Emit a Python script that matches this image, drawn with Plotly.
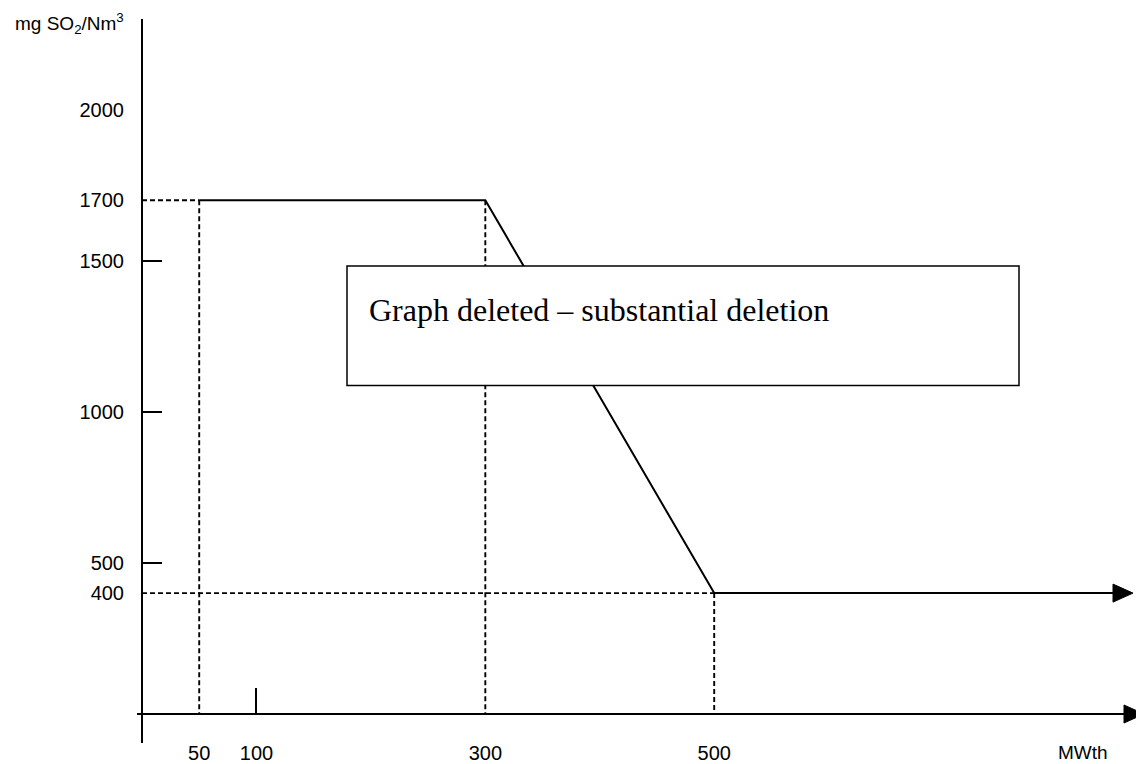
import plotly.graph_objects as go

# ---- data ----
MWTH = [50, 300, 500]            # thermal input (MWth)
SO2_LIMIT = [1700, 1700, 400]    # emission limit (mg SO2/Nm3)
Y_TICKS = [400, 500, 1000, 1500, 1700, 2000]
Y_TICK_MARKS = [500, 1000, 1500]
X_TICKS = [50, 100, 300, 500]
X_TICK_TEXT = ["50", "100", "300", "500"]
X_TICK_MARKS = [100]
Y_TITLE = "mg SO<sub>2</sub>/Nm<sup>3</sup>"
X_TITLE = "MWth"
BOX_TEXT = "Graph deleted \u2013 substantial deletion"

# ---- layout geometry ----
PAGE_OFF = 8                     # default body margin of the html page
W, H = 1144 - PAGE_OFF, 764 - PAGE_OFF
ML, MB = 134, 50
PX_PER_X = 1.1444
PX_PER_Y = 0.30222
PLOT_W = W - ML
PLOT_H = H - MB
X_RANGE = [0, PLOT_W / PX_PER_X]
Y_RANGE = [0, PLOT_H / PX_PER_Y]
AXIS_Y_PX = PAGE_OFF + PLOT_H    # page y of the x-axis

def px_to_paper_x(px):
    """page pixel x -> paper coordinate"""
    return (px - PAGE_OFF - ML) / PLOT_W

def px_to_paper_y(py):
    """page pixel y -> paper coordinate"""
    return (PLOT_H - (py - PAGE_OFF)) / PLOT_H

FONT = "Liberation Sans, Arial, sans-serif"
SERIF = "Liberation Serif, Times New Roman, serif"

fig = go.Figure()

# dashed guide lines derived from data points
gx, gy = [], []
for i in (0, len(MWTH) - 1):
    gx += [0, MWTH[i], None]
    gy += [SO2_LIMIT[i], SO2_LIMIT[i], None]
for xv, yv in zip(MWTH, SO2_LIMIT):
    gx += [xv, xv, None]
    gy += [yv, 0, None]

fig.add_trace(go.Scatter(
    x=gx, y=gy, mode="lines",
    line=dict(color="black", width=1.9, dash="5px,3px"),
    hoverinfo="skip", showlegend=False,
))

# main limit curve
fig.add_trace(go.Scatter(
    x=MWTH, y=SO2_LIMIT, mode="lines",
    line=dict(color="black", width=2),
    hoverinfo="skip", showlegend=False,
))

common_axis = dict(showgrid=False, zeroline=False, showline=False,
                   automargin=False, fixedrange=True)

fig.update_layout(
    width=W, height=H,
    template="none",
    margin=dict(l=ML, r=0, t=0, b=MB, pad=0),
    paper_bgcolor="white", plot_bgcolor="white",
    showlegend=False, hovermode=False,
    xaxis=dict(range=X_RANGE, tickvals=X_TICKS, ticktext=X_TICK_TEXT,
               ticks="outside", ticklen=21, tickcolor="rgba(0,0,0,0)",
               tickfont=dict(family=FONT, size=20, color="black"),
               minor=dict(tickvals=X_TICK_MARKS, ticks="inside", ticklen=26,
                          tickwidth=1.5, tickcolor="black", showgrid=False),
               **common_axis),
    yaxis=dict(range=Y_RANGE, tickvals=Y_TICKS, ticktext=[str(v) for v in Y_TICKS],
               ticks="outside", ticklen=13, tickcolor="rgba(0,0,0,0)",
               tickfont=dict(family=FONT, size=20, color="black"),
               minor=dict(tickvals=Y_TICK_MARKS, ticks="inside", ticklen=20,
                          tickwidth=1.5, tickcolor="black", showgrid=False),
               **common_axis),
)

def arrow_head_path(tip_px, y_px, length=20, half=9):
    """filled triangle in paper coordinates"""
    bx = px_to_paper_x(tip_px - length)
    tx = px_to_paper_x(tip_px)
    return (f"M {bx},{px_to_paper_y(y_px - half)} L {tx},{px_to_paper_y(y_px)} "
            f"L {bx},{px_to_paper_y(y_px + half)} Z")

# y-axis line (extends a little below the x-axis)
fig.add_shape(type="line", xref="paper", yref="paper",
              x0=0, x1=0, y0=px_to_paper_y(743), y1=px_to_paper_y(19),
              line=dict(color="black", width=2), layer="above")

# x-axis line with arrow head
fig.add_shape(type="line", xref="paper", yref="paper",
              x0=px_to_paper_x(137), x1=px_to_paper_x(1130), y0=0, y1=0,
              line=dict(color="black", width=2), layer="above")
fig.add_shape(type="path", xref="paper", yref="paper",
              path=arrow_head_path(1144, AXIS_Y_PX),
              line=dict(color="black", width=1), fillcolor="black", layer="above")

# continuation of the last limit value with arrow head
row_px = AXIS_Y_PX - SO2_LIMIT[-1] * PX_PER_Y
fig.add_shape(type="line", xref="paper", yref="y",
              x0=MWTH[-1] / X_RANGE[1], x1=px_to_paper_x(1120),
              y0=SO2_LIMIT[-1], y1=SO2_LIMIT[-1],
              line=dict(color="black", width=2), layer="above")
fig.add_shape(type="path", xref="paper", yref="paper",
              path=arrow_head_path(1133, row_px),
              line=dict(color="black", width=1), fillcolor="black", layer="above")

# axis titles
fig.add_annotation(xref="paper", yref="paper", x=px_to_paper_x(126), y=px_to_paper_y(24),
                   xanchor="right", yanchor="middle", text=Y_TITLE, showarrow=False,
                   font=dict(family=FONT, size=19, color="black"))
fig.add_annotation(xref="paper", yref="paper", x=px_to_paper_x(1083), y=px_to_paper_y(752),
                   xanchor="center", yanchor="middle", text=X_TITLE, showarrow=False,
                   font=dict(family=FONT, size=19, color="black"))

# deletion box
fig.add_shape(type="rect", xref="paper", yref="paper",
              x0=px_to_paper_x(347), x1=px_to_paper_x(1019),
              y0=px_to_paper_y(385.5), y1=px_to_paper_y(266),
              line=dict(color="black", width=1.5), fillcolor="white", layer="above")
fig.add_annotation(xref="paper", yref="paper", x=px_to_paper_x(367), y=px_to_paper_y(310),
                   xanchor="left", yanchor="middle", text=BOX_TEXT, showarrow=False,
                   font=dict(family=SERIF, size=32, color="black"))

fig.write_html("out.html")
